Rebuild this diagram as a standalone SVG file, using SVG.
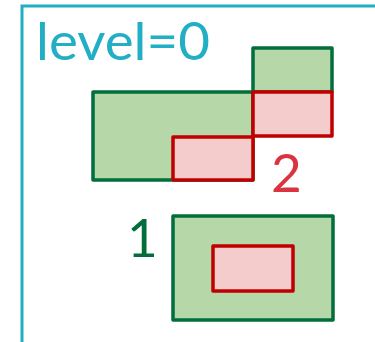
<svg xmlns="http://www.w3.org/2000/svg" width="375" height="342" viewBox="0 0 375 342">
<style>
.frame{fill:none;stroke:#22aec4;stroke-width:3}
.g{fill:#b6d7a8;stroke:#016e3b;stroke-width:3.5;stroke-linejoin:round}
.r{fill:#f4cccc;stroke:#c00000;stroke-width:3.5;stroke-linejoin:round}
.lbl{font-family:"Lato","Liberation Sans",sans-serif;font-weight:400}
</style>
<rect width="375" height="342" fill="#ffffff"/>
<g id="frame">
<rect class="frame" x="22" y="6" width="370" height="350"/>
<text class="lbl" x="36" y="60" font-size="53" fill="#22aec4" textLength="174" lengthAdjust="spacingAndGlyphs">level=0</text>
</g>
<g id="group2">
<rect class="g" x="93" y="92" width="160" height="88"/>
<rect class="g" x="253" y="48" width="79" height="44"/>
<rect class="r" x="253" y="92" width="79" height="44"/>
<rect class="r" x="173" y="137" width="80" height="43"/>
<text class="lbl" x="271" y="192" font-size="53" fill="#d9343f">2</text>
</g>
<g id="group1">
<rect class="g" x="173" y="216" width="160" height="104"/>
<rect class="r" x="213" y="246" width="80" height="45"/>
<text class="lbl" x="127" y="257" font-size="53" fill="#016e3b">1</text>
</g>
</svg>
